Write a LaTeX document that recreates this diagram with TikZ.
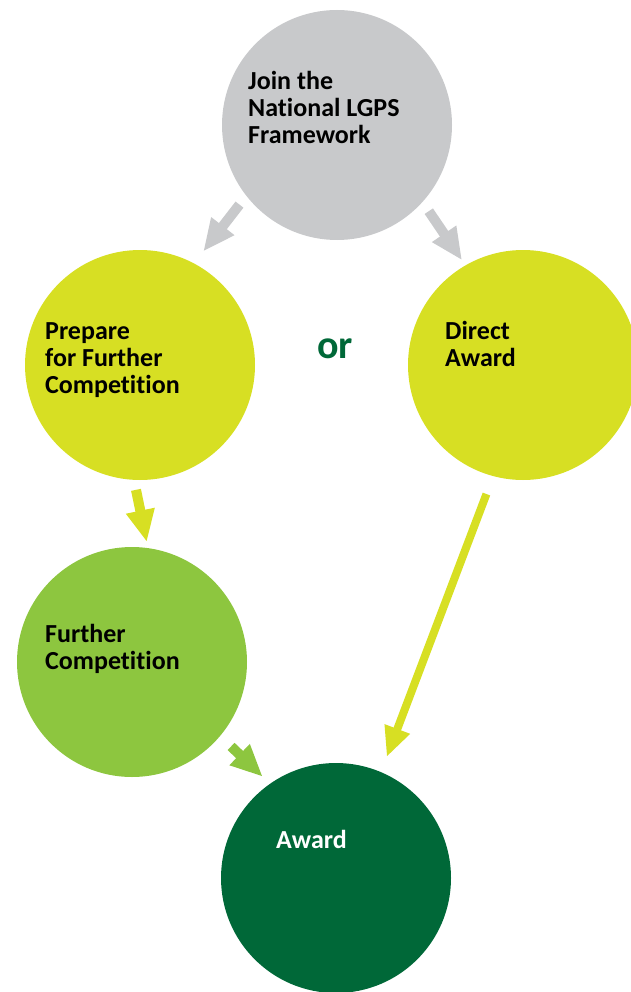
\documentclass[tikz,border=0pt]{standalone}
\usepackage{fontspec}
\setmainfont[Ligatures=NoCommon]{Carlito}
\usetikzlibrary{arrows.meta}
\definecolor{cgray}{HTML}{C8C9CB}
\definecolor{cyellow}{HTML}{D7DF23}
\definecolor{cgreen}{HTML}{8DC63F}
\definecolor{cdark}{HTML}{006838}
\begin{document}
\begin{tikzpicture}[x=1pt,y=-1pt,
  disc/.style={circle, minimum size=230pt, inner sep=0pt, draw=none},
  lbl/.style={anchor=base west, align=left, inner sep=0pt, font=\bfseries\fontsize{26}{27}\selectfont},
  flow/.style={line width=10pt, -{Triangle[width=27pt,length=32pt]}},
  longflow/.style={line width=8pt, -{Triangle[width=25pt,length=30pt]}}
]
\useasboundingbox (0,0) rectangle (631,992);
\node[disc, fill=cgray] (join) at (337,125) {};
\node[disc, fill=cyellow] (prep) at (140,365) {};
\node[disc, fill=cyellow] (direct) at (523,365) {};
\node[disc, fill=cgreen] (further) at (132,662) {};
\node[disc, fill=cdark] (award) at (336,878) {};

\node[lbl] (tjoin) at (248,144) {Join the\\National LGPS\\Framework};
\node[lbl] (tprep) at (45,393) {Prepare\\for Further\\Competition};
\node[lbl] (tdirect) at (445,366) {Direct\\Award};
\node[lbl] (tfurther) at (45,669) {Further\\Competition};
\node[lbl, text=white] (taward) at (276,848) {Award};
\node[anchor=base west, inner sep=0pt, text=cdark, font=\bfseries\fontsize{40}{40}\selectfont] (tor) at (317,358) {or};

\draw[flow, cgray, shorten <=11pt, shorten >=15pt] (join.218) -- (prep.62);
\draw[flow, cgray, shorten <=11pt, shorten >=6pt] (join.-42) -- (direct.120);
\draw[flow, cyellow, shorten <=10pt, shorten >=6pt] (prep.267) -- (further.82);
\draw[flow, cgreen, shorten <=15pt, shorten >=10pt] (further.-40) -- (award.125);
\draw[longflow, cyellow, shorten <=19pt, shorten >=16pt] (direct.255) -- (award.67);
\end{tikzpicture}
\end{document}
